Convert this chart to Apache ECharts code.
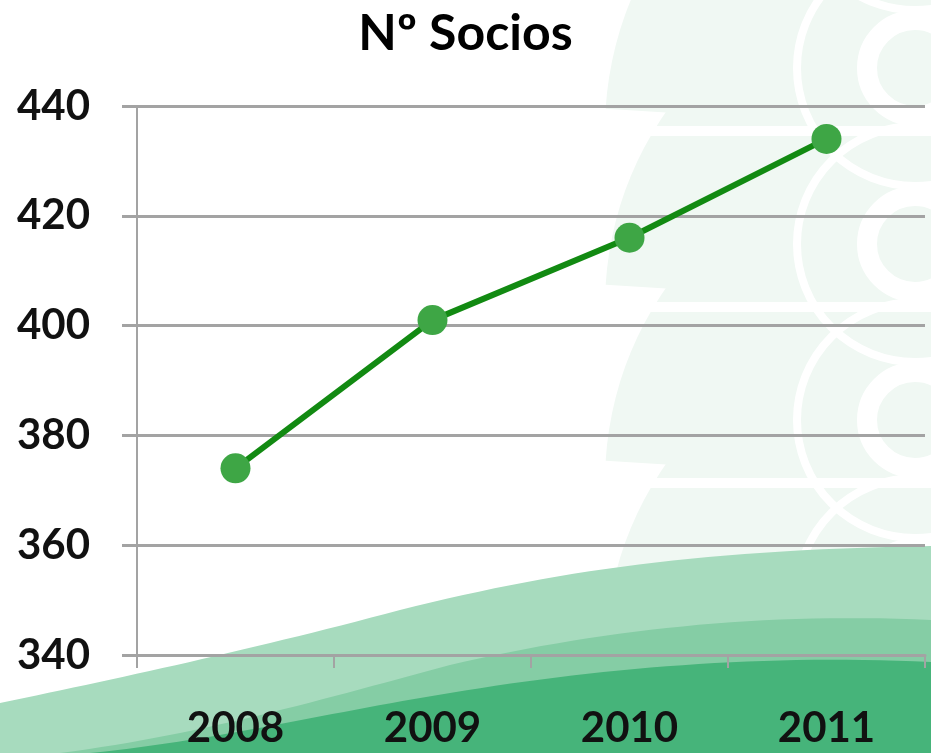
<!DOCTYPE html>
<html>
<head>
<meta charset="utf-8">
<script src="https://cdn.jsdelivr.net/npm/echarts@6/dist/echarts.min.js"></script>
<style>
html,body{margin:0;padding:0;background:#fff;}
#chart{width:931px;height:753px;}
</style>
</head>
<body>
<div id="chart"></div>
<script>
const titleText = 'Nº Socios';
const categories = ['2008', '2009', '2010', '2011'];
const socios = [374, 401, 416, 434];
const yMin = 340, yMax = 440, yStep = 20;

const chart = echarts.init(document.getElementById('chart'), null, {renderer: 'canvas'});

// decorative background helpers (waves + faint watermark)
function cubic(p0, p1, p2, p3, n) {
  const pts = [];
  for (let i = 0; i <= n; i++) {
    const t = i / n, u = 1 - t;
    pts.push([
      u*u*u*p0[0] + 3*u*u*t*p1[0] + 3*u*t*t*p2[0] + t*t*t*p3[0],
      u*u*u*p0[1] + 3*u*u*t*p1[1] + 3*u*t*t*p2[1] + t*t*t*p3[1]
    ]);
  }
  return pts;
}
function wave(segs, tail) {
  let pts = [];
  segs.forEach(function (s) { pts = pts.concat(cubic(s[0], s[1], s[2], s[3], 30)); });
  return pts.concat(tail);
}
const bg = [];
const wm = '#f0f8f3';
[-46, 130, 306, 482, 658].forEach(function (yb) {
  bg.push({type: 'sector', z: -30, shape: {cx: 945, cy: yb, r0: 0, r: 340, startAngle: Math.PI * 1.02, endAngle: Math.PI * 1.5}, style: {fill: wm}});
  bg.push({type: 'circle', z: -29, shape: {cx: 915, cy: yb - 62, r: 48}, style: {fill: 'none', stroke: '#fff', lineWidth: 20}});
  bg.push({type: 'circle', z: -29, shape: {cx: 915, cy: yb - 62, r: 118}, style: {fill: 'none', stroke: '#fff', lineWidth: 8}});
  bg.push({type: 'rect', z: -29, shape: {x: 600, y: yb - 4, width: 331, height: 10}, style: {fill: '#fff'}});
});
bg.push({type: 'polygon', z: -20, shape: {points: wave([
  [[0,703],[120,678],[250,650],[400,610]],
  [[400,610],[560,570],[700,550],[931,546]]
], [[931,753],[0,753]])}, style: {fill: '#a7dbbe'}});
bg.push({type: 'polygon', z: -19, shape: {points: wave([
  [[60,753],[200,735],[320,700],[450,665]],
  [[450,665],[600,630],[760,612],[931,620]]
], [[931,753]])}, style: {fill: '#85cda5'}});
bg.push({type: 'polygon', z: -18, shape: {points: wave([
  [[90,753],[220,740],[330,712],[450,693]],
  [[450,693],[600,668],[760,654],[931,662]]
], [[931,753]])}, style: {fill: '#46b47a'}});

const font = 'Lato, "Open Sans", sans-serif';

chart.setOption({
  backgroundColor: '#ffffff',
  animation: false,
  title: {
    text: titleText,
    left: 'center',
    top: 4,
    textStyle: {fontFamily: font, fontWeight: 'bold', fontSize: 50, color: '#000'}
  },
  grid: {left: 137, right: 6, top: 106, bottom: 98, containLabel: false},
  xAxis: {
    type: 'category',
    data: categories,
    boundaryGap: true,
    axisLine: {show: true, lineStyle: {color: '#a3a3a3', width: 3}},
    axisTick: {show: true, inside: false, length: 13, lineStyle: {color: '#a3a3a3', width: 2}},
    axisLabel: {margin: 52, fontFamily: font, fontWeight: 'bold', fontSize: 42, color: '#111'},
    splitLine: {show: false}
  },
  yAxis: {
    type: 'value',
    min: yMin, max: yMax, interval: yStep,
    axisLine: {show: true, lineStyle: {color: '#a3a3a3', width: 2}},
    axisTick: {show: true, length: 15, lineStyle: {color: '#a3a3a3', width: 3}},
    axisLabel: {margin: 47, fontFamily: font, fontWeight: 'bold', fontSize: 42, color: '#111', padding: [8, 0, 0, 0]},
    splitLine: {show: true, lineStyle: {color: '#a3a3a3', width: 3}}
  },
  graphic: bg,
  series: [{
    type: 'line',
    data: socios,
    symbol: 'circle',
    symbolSize: 30,
    z: 5,
    lineStyle: {color: '#128a12', width: 6},
    itemStyle: {color: '#3ea645', borderWidth: 0},
    label: {show: false}
  }]
});
</script>
</body>
</html>
